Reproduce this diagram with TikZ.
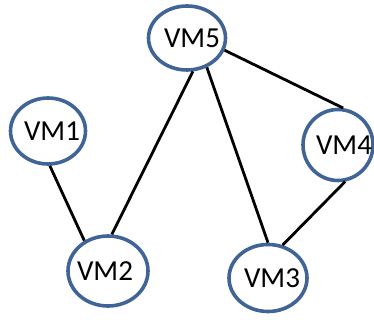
\documentclass[tikz,border=0pt]{standalone}
\usepackage{fontspec}
\setmainfont{Carlito}
\usetikzlibrary{shapes.geometric}
\definecolor{vmblue}{RGB}{65,100,150}
\tikzset{
  vm/.style={ellipse, draw=vmblue, line width=3.6pt, fill=white, inner sep=0pt},
  vmtext/.style={font=\fontsize{29}{31}\selectfont, inner sep=0pt},
  link/.style={line width=2.8pt, black}
}
\begin{document}
\begin{tikzpicture}[x=1pt, y=-1pt]
\useasboundingbox (0,0) rectangle (374,320);
% rings with their names set at the centre
\node[vm, minimum width=77pt, minimum height=64pt,
      label={[vmtext, xshift=5pt]center:VM5}] (v5) at (187,38) {};
\node[vm, minimum width=75pt, minimum height=66pt,
      label={[vmtext, xshift=4pt]center:VM1}] (v1) at (48,131) {};
\node[vm, minimum width=80pt, minimum height=70pt,
      label={[vmtext, xshift=-3pt]center:VM2}] (v2) at (108,271) {};
\node[vm, minimum width=78pt, minimum height=67pt,
      label={[vmtext, xshift=4pt]center:VM3}] (v3) at (268,278) {};
\node[vm, minimum width=70pt, minimum height=71pt,
      label={[vmtext, xshift=6pt]center:VM4}] (v4) at (338,145) {};
% links between the machines
\draw[link] (v1.-87) -- (v2.128);
\draw[link] (v5.-80) -- (v2.84);
\draw[link] (v5.-56) -- (v3.90);
\draw[link] (v5.-18) -- (v4.82);
\draw[link] (v4.-79) -- (v3.66);
\end{tikzpicture}
\end{document}
